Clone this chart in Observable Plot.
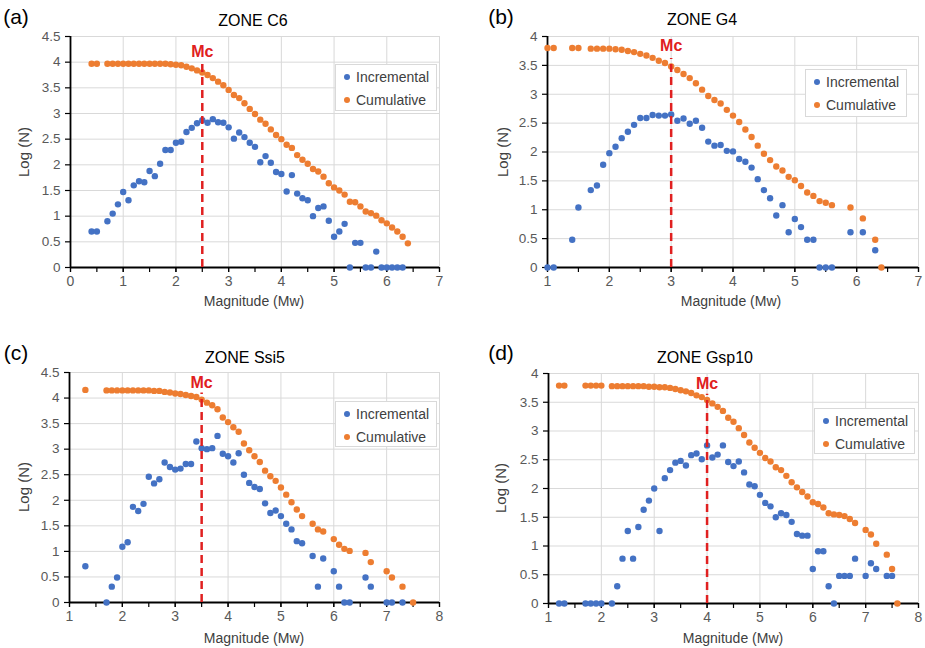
<!DOCTYPE html>
<html><head><meta charset="utf-8">
<script src="https://cdn.jsdelivr.net/npm/d3@7"></script>
<script src="https://cdn.jsdelivr.net/npm/@observablehq/plot@0.6"></script>
<style>
body{margin:0;background:#fff;}
#root{position:relative;width:925px;height:648px;background:#fff;font-family:"Liberation Sans",Arial,sans-serif;overflow:hidden;}
.pn{position:absolute;}
.lab{position:absolute;transform:translate(-50%,-50%);white-space:nowrap;line-height:1;}
.leg{position:absolute;border:1px solid #d9d9d9;background:#fff;box-sizing:border-box;font-size:14px;color:#404040;}
.leg div{position:absolute;left:8px;white-space:nowrap;line-height:1;}
.leg span{display:inline-block;width:6px;height:6px;border-radius:50%;margin-right:6px;vertical-align:2px;}
</style></head>
<body><div id="root"></div>
<script>
// ---------- data: [magnitude, log(N)] ----------
const titles = ["ZONE C6", "ZONE G4", "ZONE Ssi5", "ZONE Gsp10"];
const letters = ["(a)", "(b)", "(c)", "(d)"];
const seriesNames = ["Incremental", "Cumulative"];
const mcValues = [2.5, 3.0, 3.5, 4.0];

const aInc = [[0.4,0.70],[0.5,0.70],[0.7,0.90],[0.8,1.05],[0.9,1.23],[1.0,1.47],[1.1,1.31],[1.2,1.60],[1.3,1.68],[1.4,1.66],[1.5,1.88],[1.6,1.78],[1.7,2.02],[1.8,2.29],[1.9,2.29],[2.0,2.43],[2.1,2.45],[2.2,2.64],[2.3,2.72],[2.4,2.81],[2.5,2.87],[2.6,2.82],[2.7,2.89],[2.8,2.83],[2.9,2.82],[3.0,2.73],[3.1,2.51],[3.2,2.63],[3.3,2.54],[3.4,2.43],[3.5,2.35],[3.6,2.05],[3.7,2.17],[3.8,2.04],[3.9,1.86],[4.0,1.82],[4.1,1.48],[4.2,1.80],[4.3,1.44],[4.4,1.35],[4.5,1.31],[4.6,1.00],[4.7,1.16],[4.8,1.19],[4.9,0.91],[5.0,0.60],[5.1,0.70],[5.2,0.85],[5.3,0],[5.4,0.48],[5.5,0.48],[5.6,0],[5.7,0],[5.8,0.31],[5.9,0],[6.0,0],[6.1,0],[6.2,0],[6.3,0]];
const aCum = [[0.4,3.97],[0.5,3.97],[0.7,3.97],[0.8,3.97],[0.9,3.97],[1.0,3.97],[1.1,3.97],[1.2,3.97],[1.3,3.97],[1.4,3.97],[1.5,3.97],[1.6,3.97],[1.7,3.97],[1.8,3.97],[1.9,3.96],[2.0,3.95],[2.1,3.94],[2.2,3.91],[2.3,3.88],[2.4,3.84],[2.5,3.80],[2.6,3.75],[2.7,3.69],[2.8,3.62],[2.9,3.55],[3.0,3.46],[3.1,3.36],[3.2,3.30],[3.3,3.20],[3.4,3.09],[3.5,2.99],[3.6,2.88],[3.7,2.80],[3.8,2.69],[3.9,2.58],[4.0,2.50],[4.1,2.39],[4.2,2.33],[4.3,2.19],[4.4,2.10],[4.5,2.02],[4.6,1.92],[4.7,1.87],[4.8,1.77],[4.9,1.64],[5.0,1.56],[5.1,1.50],[5.2,1.42],[5.3,1.28],[5.4,1.27],[5.5,1.19],[5.6,1.09],[5.7,1.06],[5.8,1.01],[5.9,0.92],[6.0,0.86],[6.1,0.78],[6.2,0.70],[6.3,0.60],[6.4,0.47]];

const bInc = [[1.0,0],[1.1,0],[1.4,0.48],[1.5,1.04],[1.7,1.34],[1.8,1.42],[1.9,1.78],[2.0,1.98],[2.1,2.09],[2.2,2.24],[2.3,2.35],[2.4,2.47],[2.5,2.59],[2.6,2.59],[2.7,2.64],[2.8,2.63],[2.9,2.63],[3.0,2.65],[3.1,2.54],[3.2,2.58],[3.3,2.49],[3.4,2.54],[3.5,2.42],[3.6,2.18],[3.7,2.11],[3.8,2.12],[3.9,2.02],[4.0,2.01],[4.1,1.88],[4.2,1.83],[4.3,1.73],[4.4,1.53],[4.5,1.34],[4.6,1.20],[4.7,0.90],[4.8,1.08],[4.9,0.61],[5.0,0.84],[5.1,0.70],[5.2,0.48],[5.3,0.48],[5.4,0],[5.5,0],[5.6,0],[5.9,0.61],[6.1,0.61],[6.3,0.30]];
const bCum = [[1.0,3.80],[1.1,3.80],[1.4,3.80],[1.5,3.80],[1.7,3.79],[1.8,3.79],[1.9,3.79],[2.0,3.79],[2.1,3.78],[2.2,3.77],[2.3,3.75],[2.4,3.73],[2.5,3.70],[2.6,3.67],[2.7,3.63],[2.8,3.58],[2.9,3.54],[3.0,3.48],[3.1,3.42],[3.2,3.35],[3.3,3.28],[3.4,3.19],[3.5,3.08],[3.6,2.97],[3.7,2.90],[3.8,2.84],[3.9,2.73],[4.0,2.63],[4.1,2.52],[4.2,2.39],[4.3,2.26],[4.4,2.11],[4.5,1.97],[4.6,1.86],[4.7,1.75],[4.8,1.68],[4.9,1.57],[5.0,1.51],[5.1,1.41],[5.2,1.30],[5.3,1.24],[5.4,1.15],[5.5,1.12],[5.6,1.08],[5.9,1.04],[6.1,0.85],[6.3,0.48],[6.4,0]];

const cInc = [[1.3,0.71],[1.7,0],[1.8,0.31],[1.9,0.49],[2.0,1.09],[2.1,1.18],[2.2,1.87],[2.3,1.79],[2.4,1.93],[2.5,2.46],[2.6,2.33],[2.7,2.41],[2.8,2.74],[2.9,2.65],[3.0,2.60],[3.1,2.62],[3.2,2.71],[3.3,2.71],[3.4,3.15],[3.5,3.02],[3.6,3.00],[3.7,3.02],[3.8,3.26],[3.9,2.91],[4.0,2.86],[4.1,2.74],[4.2,2.92],[4.3,2.50],[4.4,2.34],[4.5,2.26],[4.6,2.22],[4.7,1.94],[4.8,1.75],[4.9,1.80],[5.0,1.69],[5.1,1.54],[5.2,1.43],[5.3,1.20],[5.4,1.16],[5.6,0.91],[5.7,0.31],[5.8,0.86],[6.0,0.61],[6.1,0.31],[6.2,0],[6.3,0],[6.6,0.49],[6.7,0.31],[7.0,0],[7.1,0],[7.3,0]];
const cCum = [[1.3,4.16],[1.7,4.15],[1.8,4.15],[1.9,4.15],[2.0,4.15],[2.1,4.15],[2.2,4.15],[2.3,4.15],[2.4,4.15],[2.5,4.15],[2.6,4.14],[2.7,4.14],[2.8,4.12],[2.9,4.11],[3.0,4.09],[3.1,4.08],[3.2,4.06],[3.3,4.04],[3.4,4.02],[3.5,3.97],[3.6,3.91],[3.7,3.86],[3.8,3.78],[3.9,3.62],[4.0,3.53],[4.1,3.43],[4.2,3.34],[4.3,3.11],[4.4,2.98],[4.5,2.86],[4.6,2.75],[4.7,2.58],[4.8,2.47],[4.9,2.38],[5.0,2.25],[5.1,2.11],[5.2,1.96],[5.3,1.82],[5.4,1.69],[5.6,1.54],[5.7,1.43],[5.8,1.39],[6.0,1.24],[6.1,1.13],[6.2,1.05],[6.3,1.01],[6.6,0.97],[6.7,0.79],[7.0,0.61],[7.1,0.49],[7.3,0.31],[7.5,0]];

const dInc = [[1.2,0],[1.3,0],[1.7,0],[1.8,0],[1.9,0],[2.0,0],[2.2,0],[2.3,0.30],[2.4,0.78],[2.5,1.26],[2.6,0.78],[2.7,1.33],[2.8,1.63],[2.9,1.79],[3.0,2.00],[3.1,1.26],[3.2,2.18],[3.3,2.32],[3.4,2.45],[3.5,2.48],[3.6,2.40],[3.7,2.58],[3.8,2.61],[3.9,2.51],[4.0,2.75],[4.1,2.54],[4.2,2.59],[4.3,2.75],[4.4,2.46],[4.5,2.39],[4.6,2.47],[4.7,2.28],[4.8,2.07],[4.9,2.04],[5.0,1.89],[5.1,1.75],[5.2,1.69],[5.3,1.50],[5.4,1.57],[5.5,1.54],[5.6,1.42],[5.7,1.21],[5.8,1.18],[5.9,1.18],[6.0,0.60],[6.1,0.91],[6.2,0.91],[6.3,0.30],[6.4,0],[6.5,0.48],[6.6,0.48],[6.7,0.48],[6.8,0.78],[7.0,0.48],[7.1,0.70],[7.2,0.60],[7.4,0.48],[7.5,0.48]];
const dCum = [[1.2,3.79],[1.3,3.79],[1.7,3.79],[1.8,3.79],[1.9,3.79],[2.0,3.79],[2.2,3.78],[2.3,3.78],[2.4,3.78],[2.5,3.78],[2.6,3.78],[2.7,3.78],[2.8,3.78],[2.9,3.77],[3.0,3.77],[3.1,3.76],[3.2,3.76],[3.3,3.75],[3.4,3.73],[3.5,3.71],[3.6,3.69],[3.7,3.66],[3.8,3.62],[3.9,3.59],[4.0,3.54],[4.1,3.48],[4.2,3.42],[4.3,3.35],[4.4,3.23],[4.5,3.16],[4.6,3.05],[4.7,2.93],[4.8,2.80],[4.9,2.71],[5.0,2.62],[5.1,2.53],[5.2,2.47],[5.3,2.37],[5.4,2.32],[5.5,2.22],[5.6,2.11],[5.7,2.02],[5.8,1.94],[5.9,1.86],[6.0,1.76],[6.1,1.73],[6.2,1.67],[6.3,1.57],[6.4,1.55],[6.5,1.54],[6.6,1.52],[6.7,1.47],[6.8,1.40],[7.0,1.28],[7.1,1.20],[7.2,1.04],[7.4,0.85],[7.5,0.60],[7.6,0]];

const xTicksA = [0,1,2,3,4,5,6,7];
const xTicksB = [1,2,3,4,5,6,7];
const xTicksCD = [1,2,3,4,5,6,7,8];
const yTicks45 = [0,0.5,1,1.5,2,2.5,3,3.5,4,4.5];
const yTicks40 = [0,0.5,1,1.5,2,2.5,3,3.5,4];

// ---------- styles ----------
const BLUE = "#4472C4", ORANGE = "#ED7D31", RED = "#E02020", GRID = "#d9d9d9";
const FONT = "'Liberation Sans', Arial, sans-serif";

const panels = [
  {inc:aInc, cum:aCum, xt:xTicksA, yt:yTicks45, left:0, top:0, w:460, h:320, ml:70, mr:21, mt:36, mb:53, mcTop:4.0, mcText:4.2,
   letter:[16,16], title:[253,21], xlab:[254,301], ylab:[23,152], leg:[335,64,102,47]},
  {inc:bInc, cum:bCum, xt:xTicksB, yt:yTicks40, left:470, top:0, w:455, h:320, ml:77, mr:7, mt:36, mb:53, mcTop:3.62, mcText:3.84,
   letter:[501,16], title:[702,20], xlab:[731,301], ylab:[502,152], leg:[805,69,102,48]},
  {inc:cInc, cum:cCum, xt:xTicksCD, yt:yTicks45, left:0, top:330, w:460, h:318, ml:69, mr:21, mt:42, mb:46, mcTop:4.1, mcText:4.3,
   letter:[16,352], title:[245,358], xlab:[254,638], ylab:[23,487], leg:[335,401,102,46]},
  {inc:dInc, cum:dCum, xt:xTicksCD, yt:yTicks40, left:470, top:330, w:455, h:318, ml:78, mr:7, mt:43, mb:45, mcTop:3.64, mcText:3.82,
   letter:[501,352], title:[705,358], xlab:[733,638], ylab:[500,488], leg:[814,408,101,46]}
];

const root = document.getElementById("root");
function addLabel(text, [x, y], css) {
  const d = document.createElement("div");
  d.className = "lab";
  d.textContent = text;
  d.style.left = x + "px"; d.style.top = y + "px";
  Object.assign(d.style, css);
  root.appendChild(d);
}

panels.forEach((p, i) => {
  const xmin = p.xt[0], xmax = p.xt[p.xt.length - 1], ymax = p.yt[p.yt.length - 1];
  const halfTicks = d3.range(xmin, xmax + 0.001, 0.5);
  const inc = p.inc.map(([m, n]) => ({m, n}));
  const cum = p.cum.map(([m, n]) => ({m, n}));
  const mc = mcValues[i];
  const svg = Plot.plot({
    width: p.w, height: p.h,
    marginLeft: p.ml, marginRight: p.mr, marginTop: p.mt, marginBottom: p.mb,
    style: {fontFamily: FONT, fontSize: "14px", color: "#595959", background: "transparent", overflow: "visible"},
    x: {domain: [xmin, xmax]},
    y: {domain: [0, ymax]},
    marks: [
      Plot.gridX(p.xt, {stroke: GRID, strokeOpacity: 1, strokeWidth: 1}),
      Plot.gridY(p.yt, {stroke: GRID, strokeOpacity: 1, strokeWidth: 1}),
      Plot.axisX(halfTicks, {tickSize: 5, tickFormat: () => "", stroke: "#000", strokeWidth: 1.2, label: null}),
      Plot.axisX(p.xt, {tickSize: 5, tickPadding: 4, tickFormat: d => String(d), stroke: "#000", strokeWidth: 1.2, fill: "#595959", label: null, fontSize: 14}),
      Plot.axisY(p.yt, {tickSize: 5, tickPadding: 5, tickFormat: d => String(d), stroke: "#000", strokeWidth: 1.2, fill: "#595959", label: null, fontSize: 13.5}),
      Plot.ruleY([0], {stroke: "#000", strokeWidth: 1.8}),
      Plot.ruleX([xmin], {stroke: "#000", strokeWidth: 1.8}),
      Plot.dot(inc, {x: "m", y: "n", r: 3.2, fill: BLUE, stroke: "none"}),
      Plot.dot(cum, {x: "m", y: "n", r: 3.2, fill: ORANGE, stroke: "none"}),
      Plot.ruleX([mc], {x: d => d, y1: 0, y2: p.mcTop, stroke: RED, strokeWidth: 2.5, strokeDasharray: "8,5"}),
      Plot.text([mc], {x: d => d, y: p.mcText, text: () => "Mc", fill: RED, fontWeight: "bold", fontSize: 16, fontFamily: FONT})
    ]
  });
  const holder = document.createElement("div");
  holder.className = "pn";
  holder.style.left = p.left + "px"; holder.style.top = p.top + "px";
  holder.appendChild(svg);
  root.appendChild(holder);

  addLabel(letters[i], p.letter, {fontSize: "21px", color: "#000"});
  addLabel(titles[i], p.title, {fontSize: "16px", color: "#000"});
  addLabel("Magnitude (Mw)", p.xlab, {fontSize: "14px", color: "#404040"});
  addLabel("Log (N)", p.ylab, {fontSize: "15px", color: "#404040", transform: "translate(-50%,-50%) rotate(-90deg)"});

  const [lx, ly, lw, lh] = p.leg;
  const leg = document.createElement("div");
  leg.className = "leg";
  Object.assign(leg.style, {left: lx + "px", top: ly + "px", width: lw + "px", height: lh + "px"});
  leg.innerHTML = `<div style="top:5px"><span style="background:${BLUE}"></span>${seriesNames[0]}</div>` +
                  `<div style="top:28px"><span style="background:${ORANGE}"></span>${seriesNames[1]}</div>`;
  root.appendChild(leg);
});
</script>
</body></html>
